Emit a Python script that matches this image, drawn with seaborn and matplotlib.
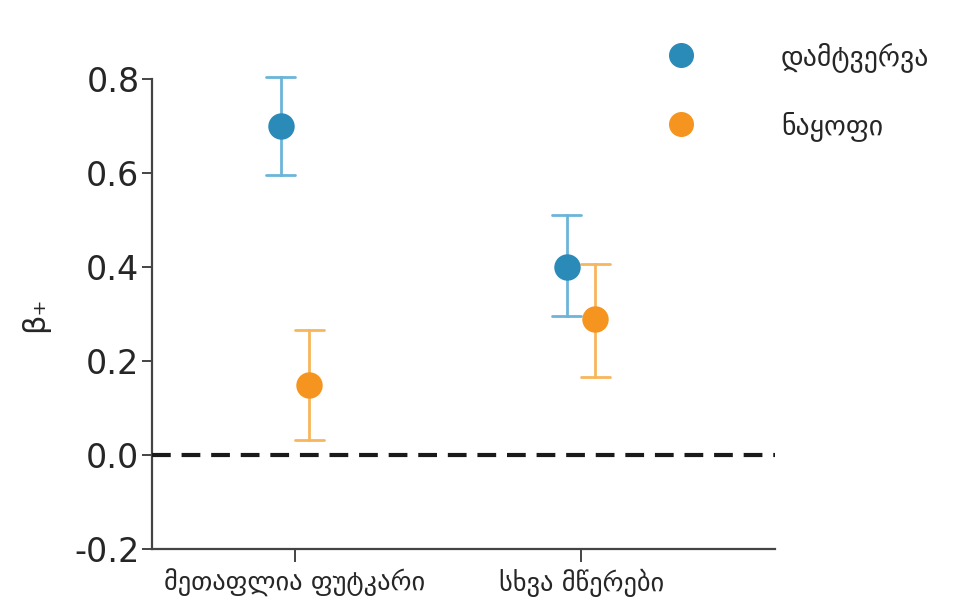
import numpy as np
import pandas as pd
import matplotlib
matplotlib.use("Agg")
import matplotlib.pyplot as plt
import matplotlib.colors as mcolors
from matplotlib.lines import Line2D
import seaborn as sns

categories = ["მეთაფლია ფუტკარი", "სხვა მწერები"]
series = ["დამტვერვა", "ნაყოფი"]
pollination_mean = [0.70, 0.40]
pollination_low = [0.595, 0.295]
pollination_high = [0.805, 0.510]
fruit_mean = [0.15, 0.29]
fruit_low = [0.032, 0.167]
fruit_high = [0.267, 0.407]
yticks = [-0.2, 0.0, 0.2, 0.4, 0.6, 0.8]

marker_colors = ["#2a8ab8", "#f5951f"]
err_colors = ["#6db4d8", "#f8b65c"]

rows = []
for s, m, lo, hi in [(series[0], pollination_mean, pollination_low, pollination_high),
                     (series[1], fruit_mean, fruit_low, fruit_high)]:
    for c, mv, lv, hv in zip(categories, m, lo, hi):
        for v in (lv, mv, hv):
            rows.append({"cat": c, "series": s, "val": v})
df = pd.DataFrame(rows)

sns.set_style("ticks")
plt.rcParams["font.family"] = ["DejaVu Sans"]

fig = plt.figure(figsize=(9.59, 6.07), dpi=100)
ax = fig.add_axes([152/959, 1-549/607, (775-152)/959, (549-79)/607])

sns.pointplot(data=df, x="cat", y="val", hue="series", order=categories,
              hue_order=series, palette=marker_colors, estimator="median",
              errorbar=lambda v: (v.min(), v.max()), dodge=0.1, capsize=0.1,
              linestyle="none", markers="o", markersize=17,
              err_kws={"linewidth": 2}, ax=ax, legend=False)

for ln in ax.lines:
    col = mcolors.to_hex(ln.get_color())
    ln.set_clip_on(False)
    if ln.get_marker() in (None, "None", "", " "):
        for mc, ec in zip(marker_colors, err_colors):
            if col.lower() == mc.lower():
                ln.set_color(ec)
        ln.set_zorder(2)
    else:
        ln.set_zorder(4)

ax.axhline(0, color="#1a1a1a", lw=3, ls=(0, (4.5, 2.6)), zorder=3)

ax.set_xlim(-0.5, 1.678)
ax.set_ylim(-0.2, 0.8)
ax.set_yticks(yticks)
ax.set_yticklabels([f"{t:.1f}" for t in yticks])
ax.set_xlabel("")
ax.set_ylabel("β₊", fontsize=22, labelpad=18)
ax.tick_params(axis="y", labelsize=24, length=7, width=1.4, color="#444444", pad=2)
ax.tick_params(axis="x", labelsize=19, length=9, width=1.4, color="#444444", pad=5)
for sp in ["top", "right"]:
    ax.spines[sp].set_visible(False)
for sp in ["left", "bottom"]:
    ax.spines[sp].set_linewidth(1.6)
    ax.spines[sp].set_color("#444444")

handles = [Line2D([], [], marker="o", ls="none", markersize=17, color=c) for c in marker_colors]
fig.legend(handles, series, loc="upper left", bbox_to_anchor=(653/959, 1-28/607),
           frameon=False, fontsize=20, handlelength=1.0, handletextpad=3.1,
           labelspacing=1.4, borderpad=0)

fig.savefig("out.png", dpi=100)
